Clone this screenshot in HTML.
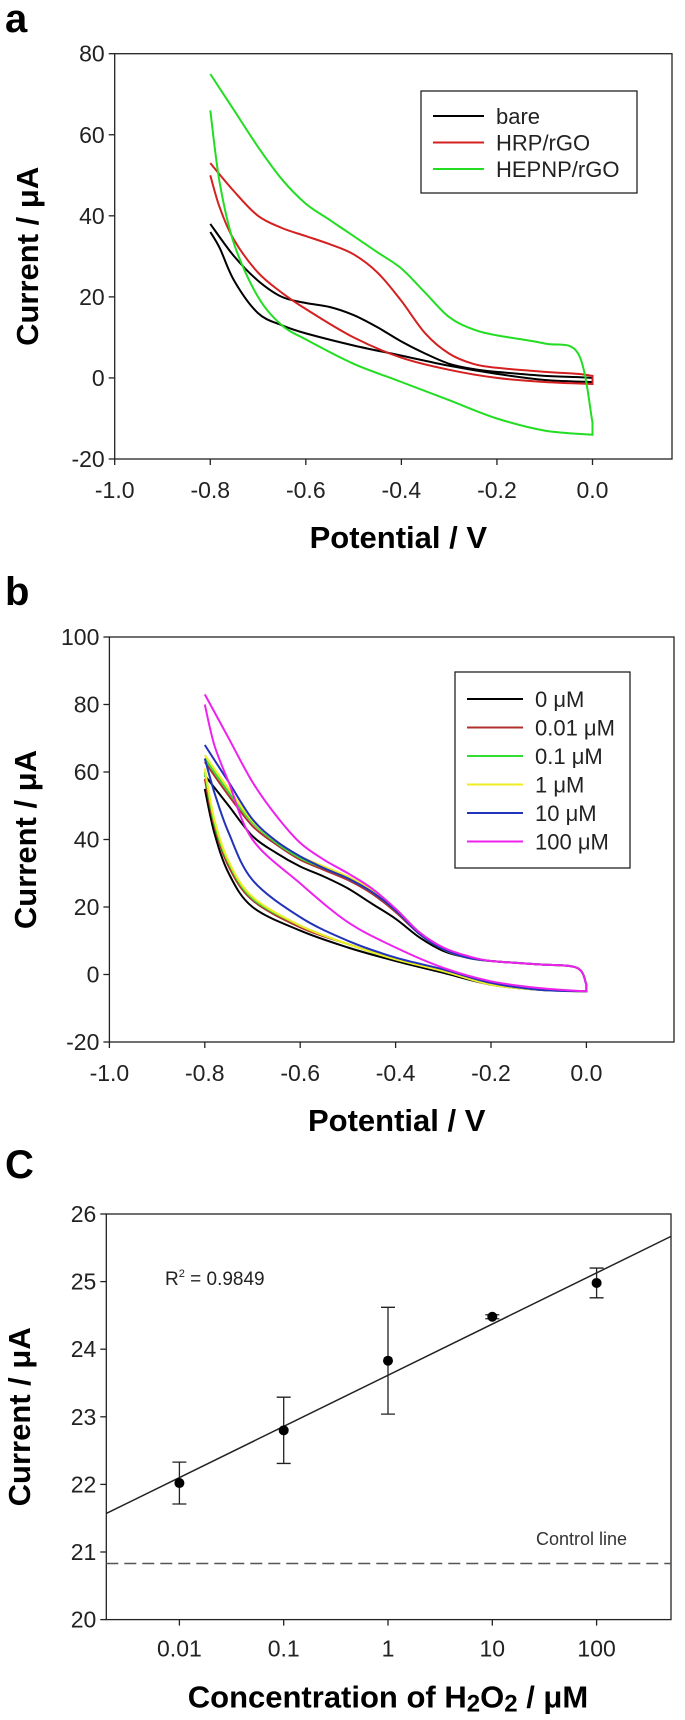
<!DOCTYPE html>
<html><head><meta charset="utf-8"><style>
html,body{margin:0;padding:0;background:#fff}
svg{display:block;font-family:"Liberation Sans",Arial,sans-serif}
</style></head><body>
<svg id="fig" width="685" height="1720" viewBox="0 0 685 1720"></svg>
<script>
// ---------- Panel a data ----------
const aUpE=[-0.8,-0.75,-0.7,-0.65,-0.6,-0.55,-0.5,-0.45,-0.4,-0.35,-0.3,-0.25,-0.2,-0.1,-0.03,0];
const aLoE=[0,-0.1,-0.2,-0.3,-0.4,-0.5,-0.6,-0.65,-0.7,-0.75,-0.78,-0.8];
const aBareUp=[38,30,24,20,18.5,17.5,15.5,12.5,9,6,3.5,2.2,1.5,0.5,0.2,0];
const aBareLo=[-1,-0.5,1,3,5.5,8,11,13,16,24,32,36];
const aHrpUp=[53,46,40,37,35,33,30.5,26,19,11,6,3.5,2.5,1.5,1,0.5];
const aHrpLo=[-1.5,-1,0,2,5,10,17,21,26,34,42,50];
const aHepUp=[75,66,57,49,43,39,35,31,27,21,15,12,10.5,8.5,6,-11];
const aHepLo=[-14,-13,-10,-5.5,-1,3.5,9.5,13,20,33,48,66];
const aYTicks=[-20,0,20,40,60,80];
const xTicks=[-1.0,-0.8,-0.6,-0.4,-0.2,0.0];
const aLegend=["bare","HRP/rGO","HEPNP/rGO"];
// ---------- Panel b data ----------
const bUpE=[-0.8,-0.75,-0.7,-0.65,-0.6,-0.55,-0.5,-0.45,-0.4,-0.35,-0.3,-0.25,-0.2,-0.1,-0.02,0];
const bLoE=[0,-0.1,-0.2,-0.3,-0.4,-0.5,-0.6,-0.7,-0.75,-0.78,-0.8];
const b0Up=[59,50,41,36,32,29,25.5,21,16.5,11,7,5,4,3,2,-3];
const b0Lo=[-5,-4.5,-3,0.5,4,8,13,20,30,42,55];
const b001Up=[63,53,44,38.5,34,31,28,24,18.5,12,7.5,5,4,3,2,-3];
const b001Lo=[-5,-4.5,-3,1,4.5,9,14,22,32,44,58];
const b01Up=[64,54,45,39,34.5,31.5,28.5,24.5,19,12,7.5,5,4,3,2,-3];
const b01Lo=[-5,-4.5,-3,1,4.5,9,14.5,22.5,33,45,60];
const b1Up=[65,55,45.5,39.5,35,32,29,25,19.5,12.5,7.5,5,4,3,2,-3];
const b1Lo=[-5,-4.5,-3,1,4.5,9,14.5,23,33.5,46,61];
const b10Up=[68,57,46,39.5,35,31.5,28.5,24.5,19,12,7.5,5,4,3,2,-3];
const b10Lo=[-5,-4.5,-2.5,1.5,5,10,17,28,42,54,64];
const b100Up=[83,70,57,47,39,34,30,25.5,19.5,12.5,8,5.5,4,3,2,-3];
const b100Lo=[-5,-4,-2,2,8,15.5,27,40,57,68,80];
const bYTicks=[-20,0,20,40,60,80,100];
const bLegend=["0 \u03bcM","0.01 \u03bcM","0.1 \u03bcM","1 \u03bcM","10 \u03bcM","100 \u03bcM"];
// ---------- Panel c data ----------
const cConc=[0.01,0.1,1,10,100];
const cMean=[22.02,22.8,23.83,24.48,24.98];
const cErr=[0.31,0.49,0.79,0.03,0.22];
const cFitSlope=0.757, cFitIntercept=23.615, cControl=20.83;
const cXTicks=["0.01","0.1","1","10","100"];
const cYTicks=[20,21,22,23,24,25,26];

const NS="http://www.w3.org/2000/svg";
const svg=document.getElementById('fig');
function mk(tag,attrs,parent,text){const e=document.createElementNS(NS,tag);for(const k in attrs)e.setAttribute(k,attrs[k]);if(text!==undefined)e.textContent=text;(parent||svg).appendChild(e);return e;}
function smooth(pts){let d="M"+pts[0][0].toFixed(1)+","+pts[0][1].toFixed(1);
 for(let i=0;i<pts.length-1;i++){const p0=pts[i-1]||pts[i],p1=pts[i],p2=pts[i+1],p3=pts[i+2]||p2;
  const c1=[p1[0]+(p2[0]-p0[0])/6,p1[1]+(p2[1]-p0[1])/6],c2=[p2[0]-(p3[0]-p1[0])/6,p2[1]-(p3[1]-p1[1])/6];
  d+="C"+c1[0].toFixed(1)+","+c1[1].toFixed(1)+" "+c2[0].toFixed(1)+","+c2[1].toFixed(1)+" "+p2[0].toFixed(1)+","+p2[1].toFixed(1);}
 return d;}

function cvPanel(o){
 const g=mk('g',{},svg);
 
 
 const X=v=>o.x0+(v+1)*(o.x1-o.x0), Y=v=>o.yb-(v-o.ymin)*(o.yb-o.yt)/(o.ymax-o.ymin);
 const pl=mk('text',{x:5,y:o.labelY,'font-size':40,'font-weight':'bold'},g,o.label);
 
 const fr=mk('rect',{x:o.x0,y:o.yt,width:o.right-o.x0,height:o.yb-o.yt,fill:'none',stroke:'#222','stroke-width':1.3},g);
 
 o.yticks.forEach(t=>{const y=Y(t);mk('line',{x1:o.x0-6,x2:o.x0,y1:y,y2:y,stroke:'#222','stroke-width':1.3},g);
  const tl=mk('text',{x:o.x0-10,y:y+8,'font-size':23,'text-anchor':'end',fill:'#222'},g,String(t));
  });
 xTicks.forEach(t=>{const x=X(t);mk('line',{x1:x,x2:x,y1:o.yb,y2:o.yb+6,stroke:'#222','stroke-width':1.3},g);
  const tl=mk('text',{x:x,y:o.yb+39,'font-size':23,'text-anchor':'middle',fill:'#222'},g,t.toFixed(1));
  });
 const xt=mk('text',{x:(o.x0+o.right)/2+5,y:o.yb+89,'font-size':31,'font-weight':'bold','text-anchor':'middle'},g,'Potential / V');
 
 const cy=(o.yt+o.yb)/2;
 const yt=mk('text',{x:o.ylx,y:cy,'font-size':31,'font-weight':'bold','text-anchor':'middle',transform:`rotate(-90 ${o.ylx} ${cy})`},g,'Current / \u03bcA');
 
 o.series.forEach(s=>{
  const up=o.upE.map((e,i)=>[X(e),Y(s.up[i])]);const lo=o.loE.map((e,i)=>[X(e),Y(s.lo[i])]);
  const p=mk('path',{d:smooth(up)+" "+smooth(lo).replace('M','L'),fill:'none',stroke:s.color,'stroke-width':2},g);
  
 });
 const L=o.legend;
 const lb=mk('rect',{x:L.x,y:L.y,width:L.w,height:L.h,fill:'#fff',stroke:'#222','stroke-width':1.3},g);
 
 o.series.forEach((s,i)=>{const y=L.y+L.first+i*L.step;
  mk('line',{x1:L.x+12,x2:L.x+L.lineW,y1:y,y2:y,stroke:s.color,'stroke-width':2},g);
  const t=mk('text',{x:L.x+L.lineW+12,y:y+8,'font-size':22,fill:'#222'},g,o.legendText[i]);
  });
}

cvPanel({name:'panel-a',label:'a',labelY:32,x0:114.7,x1:592.5,right:672,yt:53.7,yb:459,ymin:-20,ymax:80,ylx:38,
 yticks:aYTicks,upE:aUpE,loE:aLoE,legendText:aLegend,
 series:[{key:'bare',color:'#000',up:aBareUp,lo:aBareLo},{key:'hrp',color:'#d42020',up:aHrpUp,lo:aHrpLo},{key:'hepnp',color:'#22dd22',up:aHepUp,lo:aHepLo}],
 legend:{x:421,y:91,w:216,h:102,first:25,step:26.5,lineW:63}});

cvPanel({name:'panel-b',label:'b',labelY:605,x0:109.4,x1:586.4,right:674,yt:637,yb:1042,ymin:-20,ymax:100,ylx:36,
 yticks:bYTicks,upE:bUpE,loE:bLoE,legendText:bLegend,
 series:[{key:'0uM',color:'#000',up:b0Up,lo:b0Lo},{key:'0.01uM',color:'#b03030',up:b001Up,lo:b001Lo},{key:'0.1uM',color:'#33dd33',up:b01Up,lo:b01Lo},
 {key:'1uM',color:'#eeee22',up:b1Up,lo:b1Lo},{key:'10uM',color:'#2233bb',up:b10Up,lo:b10Lo},{key:'100uM',color:'#ee22ee',up:b100Up,lo:b100Lo}],
 legend:{x:455,y:672,w:175,h:196,first:27,step:28.5,lineW:68}});

// ---------- Panel c ----------
(function(){
 const g=mk('g',{},svg);
 
 
 const x0=106.3,x1=671,yt=1214,yb=1619.6;
 const X=lg=>179.4+(lg+2)*104.3, Y=v=>yb-(v-20)*(yb-yt)/6;
 const pl=mk('text',{x:5,y:1178,'font-size':40,'font-weight':'bold'},g,'C');
 
 const fr=mk('rect',{x:x0,y:yt,width:x1-x0,height:yb-yt,fill:'none',stroke:'#222','stroke-width':1.3},g);
 
 cYTicks.forEach(t=>{const y=Y(t);mk('line',{x1:x0-6,x2:x0,y1:y,y2:y,stroke:'#222','stroke-width':1.3},g);
  const tl=mk('text',{x:x0-10,y:y+8,'font-size':23,'text-anchor':'end',fill:'#222'},g,String(t));
  });
 cConc.forEach((c,i)=>{const x=X(Math.log10(c));mk('line',{x1:x,x2:x,y1:yb,y2:yb+6,stroke:'#222','stroke-width':1.3},g);
  const tl=mk('text',{x:x,y:yb+37,'font-size':23,'text-anchor':'middle',fill:'#222'},g,cXTicks[i]);
  });
 const xt=mk('text',{x:388,y:yb+88,'font-size':31,'font-weight':'bold','text-anchor':'middle'},g);
 xt.innerHTML='Concentration of H<tspan font-size="24" dy="4">2</tspan><tspan dy="-4">O</tspan><tspan font-size="24" dy="4">2</tspan><tspan dy="-4"> / \u03bcM</tspan>';
 
 const cy=(yt+yb)/2;
 const yl=mk('text',{x:30,y:cy,'font-size':31,'font-weight':'bold','text-anchor':'middle',transform:`rotate(-90 30 ${cy})`},g,'Current / \u03bcA');
 
 const lgL=(x0-179.4)/104.3-2, lgR=(x1-179.4)/104.3-2;
 const fit=mk('line',{x1:x0,y1:Y(cFitIntercept+cFitSlope*lgL),x2:x1,y2:Y(cFitIntercept+cFitSlope*lgR),stroke:'#222','stroke-width':1.5},g);
 
 const ctl=mk('line',{x1:x0,x2:x1,y1:Y(cControl),y2:Y(cControl),stroke:'#555','stroke-width':1.5,'stroke-dasharray':'12,6'},g);
 
 const ct=mk('text',{x:536,y:1545,'font-size':18,fill:'#333'},g,'Control line');
 
 const r2=mk('text',{x:165,y:1285,'font-size':19,fill:'#222'},g);
 r2.innerHTML='R<tspan font-size="11" dy="-8">2</tspan><tspan dy="8"> = 0.9849</tspan>';
 
 cConc.forEach((c,i)=>{const x=X(Math.log10(c));
  const eb=mk('path',{d:`M${x},${Y(cMean[i]-cErr[i])}V${Y(cMean[i]+cErr[i])}M${x-7},${Y(cMean[i]-cErr[i])}h14M${x-7},${Y(cMean[i]+cErr[i])}h14`,stroke:'#222','stroke-width':1.3,fill:'none'},g);
  
  const pt=mk('circle',{cx:x,cy:Y(cMean[i]),r:5,fill:'#000'},g);
  });
})();
</script>
</body></html>
